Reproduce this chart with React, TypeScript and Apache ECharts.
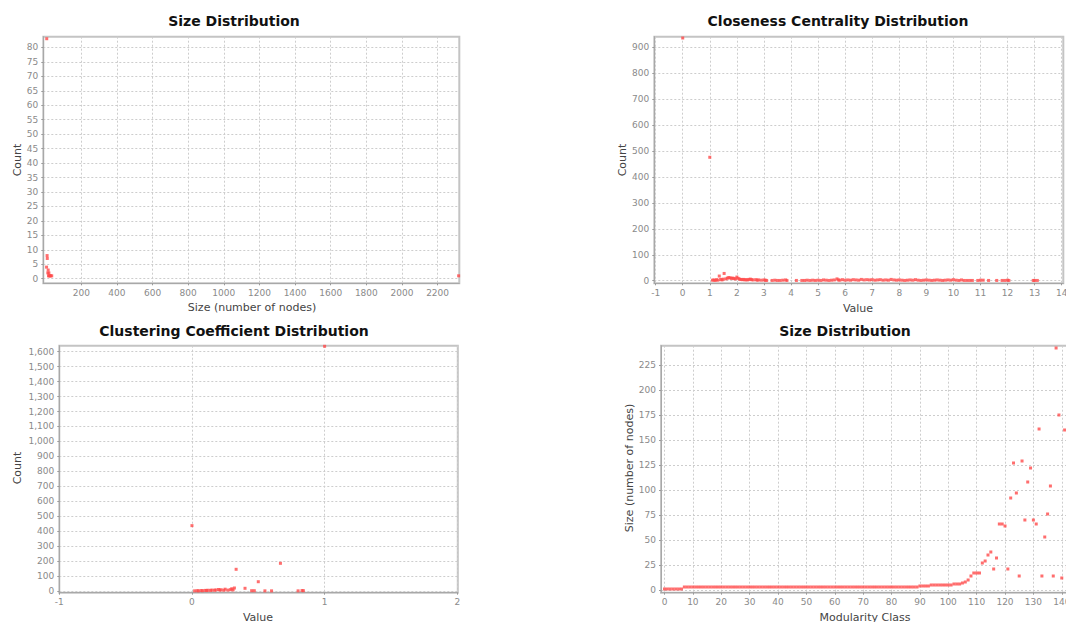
import React, { useEffect, useRef } from "react";
import * as echarts from "echarts";

// ---- Panel 1: Size Distribution (component size vs count)
const compSizes = [6, 8, 9, 5, 14, 18, 12, 16, 20, 24, 28, 34, 2318];
const compCounts = [83, 8, 7, 4, 3, 2, 2, 1, 1, 1, 1, 1, 1];
const compXTicks = [200, 400, 600, 800, 1000, 1200, 1400, 1600, 1800, 2000, 2200];
const compYTicks = [0, 5, 10, 15, 20, 25, 30, 35, 40, 45, 50, 55, 60, 65, 70, 75, 80];

// ---- Panel 2: Closeness Centrality Distribution
const closeValues = [
  0, 1, 1.1, 1.15, 1.2, 1.25, 1.3, 1.35, 1.4, 1.45, 1.5, 1.53, 1.6, 1.65, 1.7, 1.75, 1.8, 1.85, 1.9, 1.95,
  2.0, 2.05, 2.1, 2.15, 2.2, 2.25, 2.3, 2.35, 2.4, 2.45, 2.5, 2.55, 2.6, 2.7, 2.75, 2.8, 2.9, 3.0, 3.05, 3.1,
  3.3, 3.4, 3.5, 3.6, 3.7, 3.8, 3.85, 4.2, 4.4, 4.5, 4.6, 4.7, 4.8, 4.9, 5.0, 5.1, 5.2, 5.3, 5.4, 5.5,
  5.6, 5.7, 5.75, 5.8, 5.9, 6.0, 6.1, 6.2, 6.3, 6.4, 6.5, 6.6, 6.7, 6.8, 6.9, 7.0, 7.1, 7.2, 7.3, 7.4,
  7.5, 7.6, 7.7, 7.8, 7.9, 8.0, 8.1, 8.2, 8.3, 8.4, 8.5, 8.6, 8.7, 8.8, 8.9, 9.0, 9.1, 9.2, 9.3, 9.4,
  9.5, 9.6, 9.7, 9.8, 9.9, 10.0, 10.1, 10.2, 10.3, 10.4, 10.5, 10.6, 10.7, 10.9, 11.0, 11.1, 11.3, 11.6, 11.8, 11.9,
  12.0, 12.05, 12.95, 13.0, 13.1,
];
const closeCounts = [
  936, 476, 2, 3, 1, 4, 2, 18, 5, 3, 6, 28, 7, 10, 12, 11, 9, 10, 8, 7,
  14, 9, 6, 5, 4, 5, 3, 4, 3, 5, 6, 4, 3, 4, 2, 3, 2, 3, 2, 1,
  1, 2, 1, 1, 2, 3, 1, 1, 1, 1, 2, 1, 2, 1, 2, 1, 3, 2, 1, 2,
  3, 7, 3, 2, 4, 2, 3, 2, 4, 3, 2, 5, 3, 4, 3, 4, 2, 3, 4, 2,
  3, 2, 5, 3, 2, 3, 2, 1, 2, 3, 2, 4, 2, 1, 2, 3, 2, 1, 2, 3,
  2, 1, 2, 3, 2, 4, 2, 1, 3, 1, 1, 1, 1, 1, 2, 2, 1, 1, 1, 1,
  2, 1, 1, 1, 1,
];
const closeXTicks = [-1, 0, 1, 2, 3, 4, 5, 6, 7, 8, 9, 10, 11, 12, 13, 14];
const closeYTicks = [0, 100, 200, 300, 400, 500, 600, 700, 800, 900];

// ---- Panel 3: Clustering Coefficient Distribution
const clusterValues = [
  0, 1, 0.333, 0.5, 0.667, 0.02, 0.04, 0.05, 0.07, 0.08, 0.1, 0.11, 0.12, 0.14, 0.15, 0.17, 0.18, 0.2, 0.21, 0.22,
  0.24, 0.25, 0.27, 0.29, 0.3, 0.31, 0.32, 0.4, 0.45, 0.47, 0.55, 0.6, 0.8, 0.83, 0.84,
];
const clusterCounts = [
  437, 1636, 145, 62, 185, 1, 2, 1, 3, 2, 4, 3, 5, 4, 6, 5, 7, 10, 6, 8,
  5, 12, 6, 9, 15, 7, 20, 18, 2, 2, 1, 1, 1, 3, 2,
];
const clusterXTicks = [-1, 0, 1, 2];
const clusterYTicks = [0, 100, 200, 300, 400, 500, 600, 700, 800, 900, 1000, 1100, 1200, 1300, 1400, 1500, 1600];

// ---- Panel 4: Size Distribution by Modularity Class (index = class)
const classSizes = [
  1, 1, 1, 1, 1, 1, 1, 3, 3, 3,
  3, 3, 3, 3, 3, 3, 3, 3, 3, 3,
  3, 3, 3, 3, 3, 3, 3, 3, 3, 3,
  3, 3, 3, 3, 3, 3, 3, 3, 3, 3,
  3, 3, 3, 3, 3, 3, 3, 3, 3, 3,
  3, 3, 3, 3, 3, 3, 3, 3, 3, 3,
  3, 3, 3, 3, 3, 3, 3, 3, 3, 3,
  3, 3, 3, 3, 3, 3, 3, 3, 3, 3,
  3, 3, 3, 3, 3, 3, 3, 3, 3, 3,
  4, 4, 4, 4, 5, 5, 5, 5, 5, 5,
  5, 5, 6, 6, 6, 7, 8, 10, 14, 17,
  17, 17, 27, 29, 35, 38, 21, 32, 66, 66,
  64, 21, 92, 127, 97, 14, 129, 70, 108, 122,
  70, 66, 161, 14, 53, 76, 104, 14, 242, 175,
  12, 160, 22,
];
const classXTicks = [0, 10, 20, 30, 40, 50, 60, 70, 80, 90, 100, 110, 120, 130, 140];
const classYTicks = [0, 25, 50, 75, 100, 125, 150, 175, 200, 225];

const FONT = "DejaVu Sans";
const POINT_COLOR = "#ff4a4a";

type Panel = {
  title: string;
  titleX: number;
  titleY: number;
  grid: { left: number; top: number; width: number; height: number };
  xRange: [number, number];
  yRange: [number, number];
  xTicks: number[];
  yTicks: number[];
  xName: string;
  yName: string;
  xNamePos: [number, number];
  yNamePos: [number, number];
  points: number[][];
  yFmt?: (v: number) => string;
};

function nameText(text: string, x: number, y: number, vertical: boolean) {
  return {
    type: "text",
    x,
    y,
    rotation: vertical ? Math.PI / 2 : 0,
    silent: true,
    style: {
      text,
      fill: "#444",
      font: `11px "${FONT}"`,
      align: "center",
      verticalAlign: "middle",
      textAlign: "center",
      textVerticalAlign: "middle",
    },
  };
}

function buildOption(panels: Panel[]) {
  const axisCommon = (ticks: number[], fmt?: (v: number) => string) => ({
    type: "value" as const,
    axisLine: { show: true, onZero: false, lineStyle: { color: "#a8a8a8", width: 1 } },
    axisTick: { show: true, length: 2, customValues: ticks, lineStyle: { color: "#9a9a9a" } },
    axisLabel: {
      show: true,
      customValues: ticks,
      color: "#8a8a8a",
      fontFamily: FONT,
      fontSize: 9,
      margin: 5,
      formatter: fmt ? (v: number) => fmt(v) : (v: number) => String(v),
    },
    splitLine: { show: true, lineStyle: { color: "#cdcdcd", type: [2, 2] as any, width: 1 } },
  });

  const graphics: any[] = [];
  panels.forEach((p) => {
    graphics.push(nameText(p.xName, p.xNamePos[0], p.xNamePos[1], false));
    graphics.push(nameText(p.yName, p.yNamePos[0], p.yNamePos[1], true));
  });

  return {
    animation: false,
    backgroundColor: "#ffffff",
    title: panels.map((p) => ({
      text: p.title,
      left: p.titleX,
      top: p.titleY,
      textAlign: "center",
      padding: 0,
      textStyle: { fontFamily: FONT, fontWeight: "bold", fontSize: 14, color: "#111" },
    })),
    grid: panels.map((p) => ({
      left: p.grid.left,
      top: p.grid.top,
      width: p.grid.width,
      height: p.grid.height,
      show: true,
      borderColor: "#c4c4c4",
      borderWidth: 2,
      backgroundColor: "#ffffff",
      containLabel: false,
    })),
    xAxis: panels.map((p, i) => ({
      ...axisCommon(p.xTicks),
      gridIndex: i,
      min: p.xRange[0],
      max: p.xRange[1],
    })),
    yAxis: panels.map((p, i) => ({
      ...axisCommon(p.yTicks, p.yFmt),
      gridIndex: i,
      min: p.yRange[0],
      max: p.yRange[1],
    })),
    graphic: graphics,
    series: panels.map((p, i) => ({
      type: "scatter",
      xAxisIndex: i,
      yAxisIndex: i,
      symbol: "rect",
      symbolSize: 3,
      silent: true,
      itemStyle: { color: POINT_COLOR },
      data: p.points,
    })),
  };
}

export default function App() {
  const ref = useRef<HTMLDivElement>(null);

  useEffect(() => {
    if (!ref.current) return;
    const chart = echarts.init(ref.current, undefined, { renderer: "svg" });

    const panels: Panel[] = [
      {
        title: "Size Distribution",
        titleX: 234,
        titleY: 14,
        grid: { left: 43.3, top: 36.7, width: 416, height: 246.6 },
        xRange: [-13.3, 2321.8],
        yRange: [-1.59, 83.7],
        xTicks: compXTicks,
        yTicks: compYTicks,
        xName: "Size (number of nodes)",
        yName: "Count",
        xNamePos: [252, 307],
        yNamePos: [17, 160],
        points: compSizes.map((s, i) => [s, compCounts[i]]),
      },
      {
        title: "Closeness Centrality Distribution",
        titleX: 838,
        titleY: 14,
        grid: { left: 654.3, top: 36.7, width: 409, height: 246.6 },
        xRange: [-1.05, 14.06],
        yRange: [-10, 941],
        xTicks: closeXTicks,
        yTicks: closeYTicks,
        xName: "Value",
        yName: "Count",
        xNamePos: [858, 308],
        yNamePos: [622, 160],
        points: closeValues.map((v, i) => [v, closeCounts[i]]),
      },
      {
        title: "Clustering Coefficient Distribution",
        titleX: 234,
        titleY: 324,
        grid: { left: 59.3, top: 345.7, width: 398.5, height: 247 },
        xRange: [-1, 2.004],
        yRange: [-11.4, 1640],
        xTicks: clusterXTicks,
        yTicks: clusterYTicks,
        xName: "Value",
        yName: "Count",
        xNamePos: [258, 617],
        yNamePos: [17, 468],
        points: clusterValues.map((v, i) => [v, clusterCounts[i]]),
        yFmt: (v: number) => v.toLocaleString("en-US"),
      },
      {
        title: "Size Distribution",
        titleX: 845,
        titleY: 324,
        grid: { left: 661, top: 345.7, width: 409, height: 247 },
        xRange: [-1.23, 142.9],
        yRange: [-2.7, 244.3],
        xTicks: classXTicks,
        yTicks: classYTicks,
        xName: "Modularity Class",
        yName: "Size (number of nodes)",
        xNamePos: [865, 617],
        yNamePos: [629, 468],
        points: classSizes.map((s, i) => [i, s]),
      },
    ];

    chart.setOption(buildOption(panels) as any);
    return () => chart.dispose();
  }, []);

  return (
    <div
      style={{
        position: "absolute",
        left: 0,
        top: 0,
        width: 1066,
        height: 622,
        overflow: "hidden",
        background: "#fff",
      }}
    >
      <div ref={ref} style={{ width: 1110, height: 622 }} />
    </div>
  );
}
